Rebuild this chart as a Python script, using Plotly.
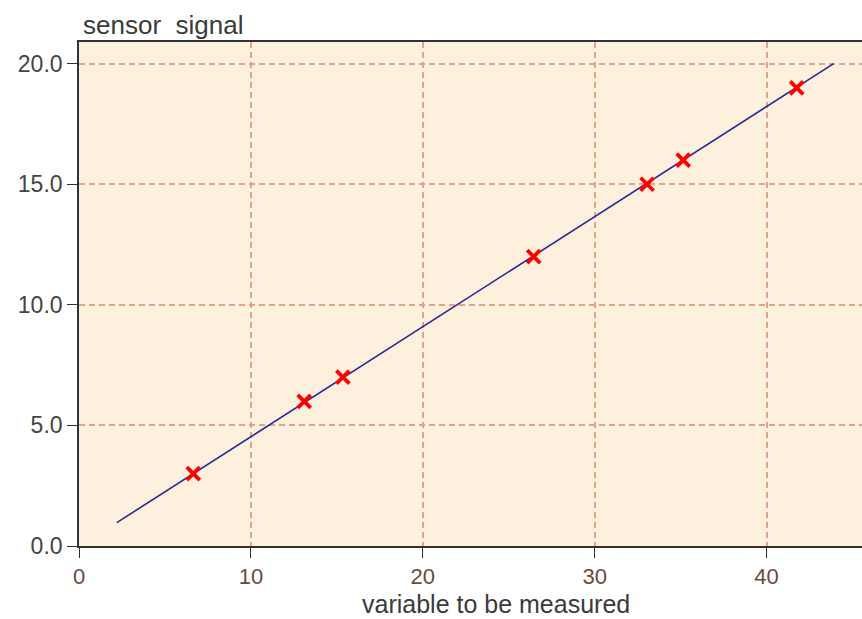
import plotly.graph_objects as go

# Calibration measurements
measured_x = [6.65, 13.1, 15.35, 26.45, 33.05, 35.15, 41.75]
signal_y = [3.0, 6.0, 7.0, 12.0, 15.0, 16.0, 19.0]

# Fitted calibration line end points
fit_x = [2.2, 43.9]
fit_y = [0.97, 20.0]

x_ticks = [0, 10, 20, 30, 40]
y_ticks = [0, 5, 10, 15, 20]
y_tick_labels = ["0.0", "5.0", "10.0", "15.0", "20.0"]

text_font = "Liberation Sans, Arial, sans-serif"
grid_color = "#e0a586"

fig = go.Figure()
fig.add_trace(go.Scatter(
    x=fit_x, y=fit_y, mode="lines",
    line=dict(color="#2a2a9a", width=1.6),
    hoverinfo="skip", showlegend=False,
))
fig.add_trace(go.Scatter(
    x=measured_x, y=signal_y, mode="markers",
    marker=dict(symbol="x-thin", size=13, color="#ff0000",
                line=dict(color="#ff0000", width=3.8)),
    showlegend=False,
))

fig.update_layout(
    width=862, height=619,
    margin=dict(l=79, r=0, t=42, b=73),
    paper_bgcolor="white",
    plot_bgcolor="#fdf0dc",
    font=dict(family=text_font, size=26, color="#3a3a3a"),
    xaxis=dict(
        range=[0, 45.55], tickvals=x_ticks, ticktext=[str(v) for v in x_ticks],
        showgrid=True, gridcolor=grid_color, griddash="6px,4px", gridwidth=1.5,
        showline=True, linecolor="#333333", linewidth=1.6, mirror=True,
        ticks="outside", ticklen=10, tickcolor="#333333", tickwidth=1.3,
        tickfont=dict(color="#6b4a3a", size=22, family=text_font),
        zeroline=False, fixedrange=True,
    ),
    yaxis=dict(
        range=[0, 20.9], tickvals=y_ticks, ticktext=y_tick_labels,
        showgrid=True, gridcolor=grid_color, griddash="6px,4px", gridwidth=1.5,
        showline=True, linecolor="#333333", linewidth=1.6,
        ticks="outside", ticklen=10, tickcolor="#333333", tickwidth=1.3,
        tickfont=dict(color="#444444", size=23, family=text_font),
        zeroline=False, fixedrange=True,
    ),
    annotations=[
        dict(text="sensor&nbsp;&nbsp;signal", xref="paper", yref="paper",
             x=0.003, y=1.0, xanchor="left", yanchor="bottom", yshift=0,
             showarrow=False, font=dict(size=26, color="#3a3a3a", family=text_font)),
        dict(text="variable to be measured", xref="paper", yref="paper",
             x=0.5325, y=0, xanchor="center", yanchor="bottom", yshift=-73,
             borderpad=0,
             showarrow=False, font=dict(size=25, color="#3a3a3a", family=text_font)),
    ],
)

fig.write_html("out.html")
